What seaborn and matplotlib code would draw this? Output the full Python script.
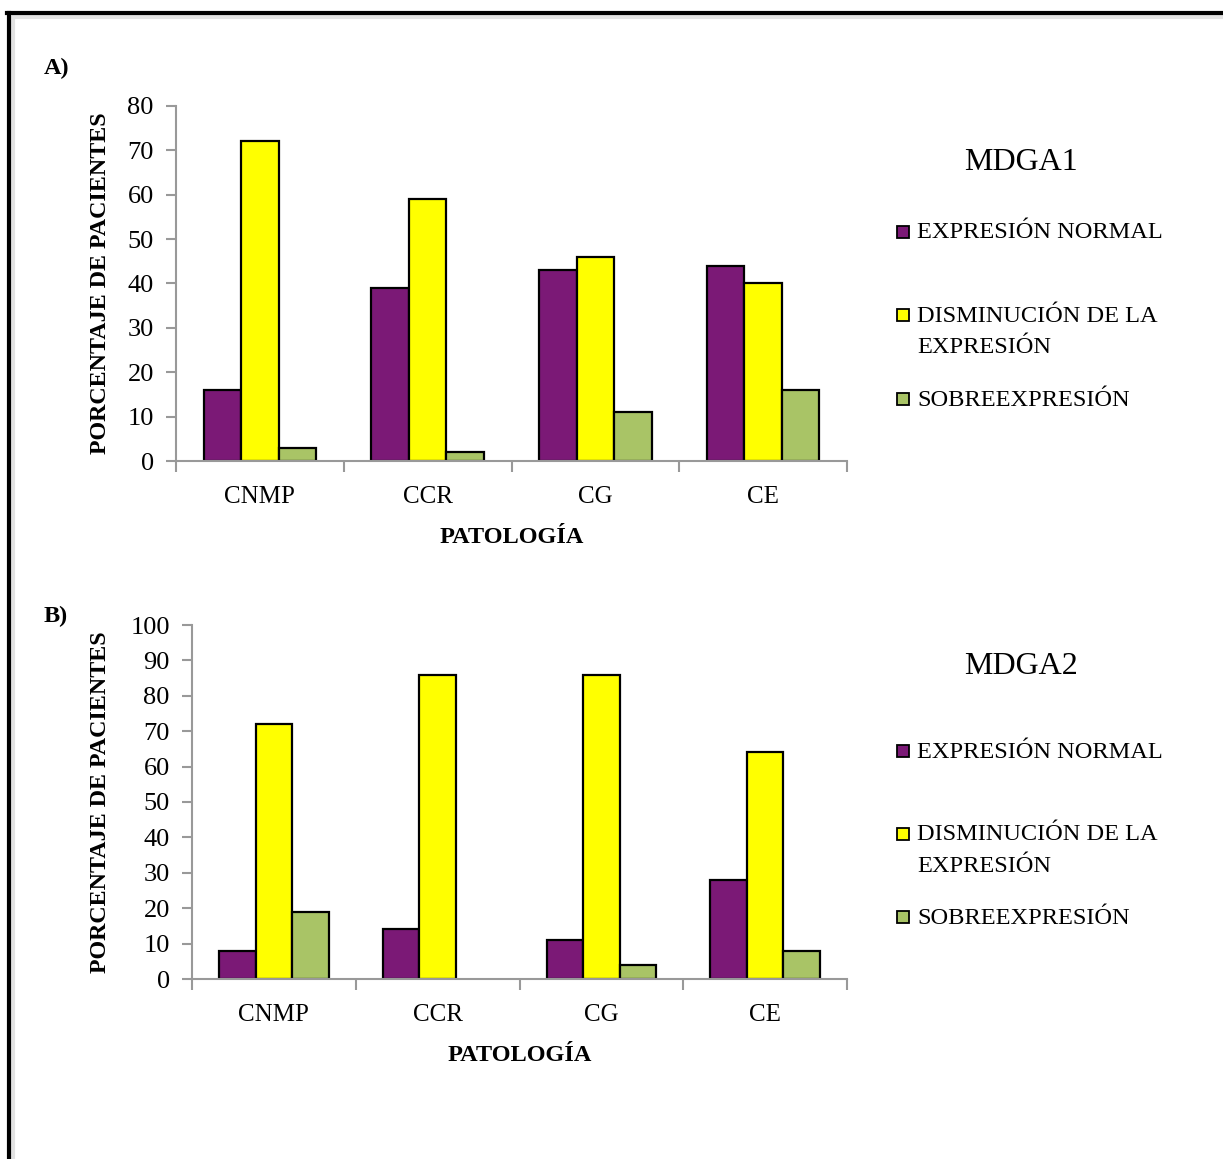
import matplotlib
matplotlib.use("Agg")
import matplotlib.pyplot as plt
from matplotlib.patches import Rectangle
from matplotlib.lines import Line2D
import seaborn as sns
import pandas as pd

# Data
categorias = ["CNMP", "CCR", "CG", "CE"]
series = ["EXPRESIÓN NORMAL", "DISMINUCIÓN DE LA\nEXPRESIÓN", "SOBREEXPRESIÓN"]

mdga1_normal = [16, 39, 43, 44]
mdga1_disminucion = [72, 59, 46, 40]
mdga1_sobre = [3, 2, 11, 16]

mdga2_normal = [8, 14, 11, 28]
mdga2_disminucion = [72, 86, 86, 64]
mdga2_sobre = [19, 0, 4, 8]

colores = ["#7B1976", "#FFFF00", "#A9C466"]

sns.set_theme(style="white")
plt.rcParams["font.family"] = ["Liberation Serif", "DejaVu Serif"]
plt.rcParams["text.color"] = "black"
plt.rcParams["axes.labelcolor"] = "black"
plt.rcParams["xtick.color"] = "black"
plt.rcParams["ytick.color"] = "black"

W, H = 1223, 1159
fig = plt.figure(figsize=(W / 100, H / 100), dpi=100)
fig.patch.set_facecolor("white")


def fx(px):
    return px / W


def fy(py):
    return 1 - py / H


def tabla(normal, dism, sobre):
    filas = []
    for valores, s in zip([normal, dism, sobre], series):
        for c, v in zip(categorias, valores):
            filas.append({"Patología": c, "Serie": s, "Valor": v})
    return pd.DataFrame(filas)


def panel(rect, df, ymax, step, ylab_x, letra, letra_y, titulo, tit_y, ent_y):
    ax = fig.add_axes(rect)
    sns.barplot(data=df, x="Patología", y="Valor", hue="Serie",
                hue_order=series, order=categorias,
                palette=dict(zip(series, colores)), width=0.67, gap=0,
                edgecolor="black", linewidth=1.6, saturation=1,
                legend=False, ax=ax, errorbar=None)
    # empty bars leave no outline
    for p in ax.patches:
        if p.get_height() == 0:
            p.set_edgecolor("none")
    ax.set_xlim(-0.5, len(categorias) - 0.5)
    ax.set_ylim(0, ymax)
    ax.set_yticks(range(0, ymax + 1, step))
    ax.tick_params(axis="y", which="major", direction="out", length=7,
                   width=1.5, color="#999999", pad=9, labelsize=19,
                   left=True, labelcolor="black")
    # major x ticks at category boundaries, labels on minor ticks at centres
    ax.set_xticks([i - 0.5 for i in range(len(categorias) + 1)])
    ax.set_xticklabels([])
    ax.set_xticks(range(len(categorias)), minor=True)
    ax.set_xticklabels(categorias, minor=True)
    ax.tick_params(axis="x", which="major", direction="out", length=8,
                   width=1.5, color="#999999", bottom=True)
    ax.tick_params(axis="x", which="minor", length=0, pad=18, labelsize=18,
                   bottom=True, labelcolor="black")
    for side in ["top", "right"]:
        ax.spines[side].set_visible(False)
    for side in ["left", "bottom"]:
        ax.spines[side].set_color("#999999")
        ax.spines[side].set_linewidth(1.5)
    ax.set_xlabel("PATOLOGÍA", fontsize=17.5, fontweight="bold", color="black")
    ax.set_ylabel("PORCENTAJE DE PACIENTES", fontsize=17.3, fontweight="bold",
                  color="black")
    ax.xaxis.label.set_va("center")
    ax.yaxis.label.set_va("center")
    ax.yaxis.set_label_coords(ylab_x, 0.5)
    ax.xaxis.set_label_coords(0.5, -0.216)

    fig.text(fx(44), fy(letra_y), letra, fontsize=17.5, fontweight="bold",
             ha="left", va="center")
    fig.text(fx(1021), fy(tit_y), titulo, fontsize=23, ha="center",
             va="center")
    for y, etiqueta, col in zip(ent_y, series, colores):
        fig.patches.append(Rectangle((fx(897), fy(y + 6)), fx(12), 12 / H,
                                     transform=fig.transFigure,
                                     facecolor=col, edgecolor="black",
                                     linewidth=1.3))
        for k, linea in enumerate(etiqueta.split("\n")):
            fig.text(fx(917), fy(y + 1 + 32 * k), linea, fontsize=17.6,
                     ha="left", va="center")
    return ax


# MDGA1
panel([fx(176), fy(461), fx(847) - fx(176), (461 - 106) / H],
      tabla(mdga1_normal, mdga1_disminucion, mdga1_sobre), 80, 10,
      -0.113, "A)", 68, "MDGA1", 162, [232, 315, 399])

# MDGA2
panel([fx(192), fy(979), fx(847) - fx(192), (979 - 625) / H],
      tabla(mdga2_normal, mdga2_disminucion, mdga2_sobre), 100, 10,
      -0.140, "B)", 616, "MDGA2", 667, [751, 834, 917])

# page frame with soft shadow
fig.add_artist(Line2D([fx(13), 1.0], [fy(17), fy(17)], color="#e2e2e2",
                      linewidth=3, transform=fig.transFigure))
fig.add_artist(Line2D([fx(13), fx(13)], [fy(17), 0.0], color="#e2e2e2",
                      linewidth=3, transform=fig.transFigure))
fig.add_artist(Line2D([fx(7), 1.0], [fy(13), fy(13)], color="black",
                      linewidth=3, transform=fig.transFigure,
                      solid_capstyle="projecting"))
fig.add_artist(Line2D([fx(9), fx(9)], [fy(13), 0.0], color="black",
                      linewidth=3, transform=fig.transFigure,
                      solid_capstyle="projecting"))

fig.savefig("out.png", dpi=100, facecolor="white")
